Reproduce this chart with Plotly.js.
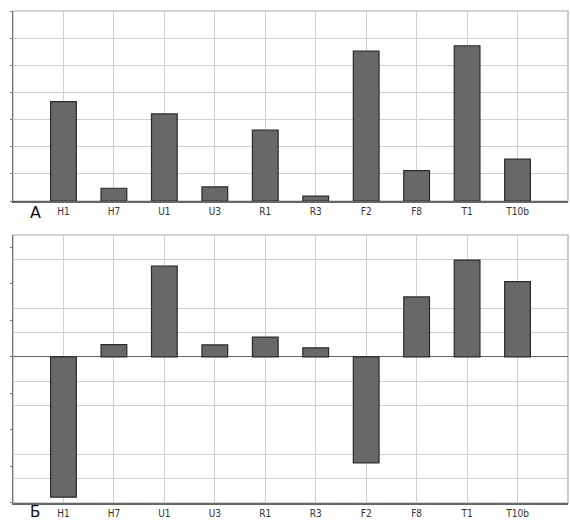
<!DOCTYPE html>
<html>
<head>
<meta charset="utf-8">
<script src="https://cdn.plot.ly/plotly-3.0.1.min.js"></script>
<style>html,body{margin:0;padding:0;background:#fff;}#chart{width:570px;height:521px;}</style>
</head>
<body>
<div id="chart"></div>
<script>
const categories = ['H1','H7','U1','U3','R1','R3','F2','F8','T1','T10b'];
const valuesA = [3.66,0.47,3.21,0.52,2.61,0.18,5.52,1.12,5.72,1.54];
const valuesB = [-5.76,0.50,3.72,0.49,0.81,0.37,-4.35,2.46,3.97,3.09];
const panelLabels = ['А','Б'];

const barStyle = {color:'#686868', line:{color:'#2a2a2a', width:1.2}};
const traces = [
  {type:'bar', x:categories, y:valuesA, xaxis:'x', yaxis:'y', marker:barStyle, width:0.51, hoverinfo:'skip'},
  {type:'bar', x:categories, y:valuesB, xaxis:'x2', yaxis:'y2', marker:barStyle, width:0.51, hoverinfo:'skip'}
];

const tickFont = {family:'"DejaVu Sans Condensed","Liberation Sans Narrow","Arial Narrow","DejaVu Sans",sans-serif', size:10, color:'#333'};
const xCommon = {
  type:'category', range:[-1,10], showgrid:true, gridcolor:'#cfcfcf', gridwidth:1,
  showline:true, linecolor:'#666', linewidth:1.5, ticks:'', tickfont:tickFont, zeroline:false,
  fixedrange:true
};
const yCommon = {
  showline:true, linecolor:'#777', linewidth:1.2, ticks:'outside', ticklen:2, tickcolor:'#777',
  showticklabels:false, showgrid:true, gridcolor:'#cfcfcf', gridwidth:1, fixedrange:true
};

const layout = {
  width:570, height:521,
  margin:{l:13, r:2, t:11, b:18},
  paper_bgcolor:'#fff', plot_bgcolor:'#fff',
  showlegend:false, bargap:0,
  xaxis: Object.assign({}, xCommon, {anchor:'y'}),
  yaxis: Object.assign({}, yCommon, {domain:[0.6138,1], range:[0,7], dtick:1, tick0:0, zeroline:false}),
  xaxis2: Object.assign({}, xCommon, {anchor:'y2'}),
  yaxis2: Object.assign({}, yCommon, {domain:[0,0.5447], range:[-6,5], dtick:1.5, tick0:0, showgrid:false,
    zeroline:true, zerolinecolor:'#666', zerolinewidth:1.3,
    minor:{dtick:1, tick0:0, showgrid:true, gridcolor:'#cfcfcf', gridwidth:1, ticks:''}}),
  shapes:[
    {type:'rect', xref:'x domain', yref:'y domain', x0:0, x1:1, y0:0, y1:1, line:{color:'#aaa', width:1.2}, layer:'below'},
    {type:'rect', xref:'x2 domain', yref:'y2 domain', x0:0, x1:1, y0:0, y1:1, line:{color:'#aaa', width:1.2}, layer:'below'}
  ],
  annotations:[
    {text:panelLabels[0], xref:'paper', yref:'paper', x:0.04, y:0.6138, yshift:-11, showarrow:false, xanchor:'center', yanchor:'middle',
     font:{family:'"DejaVu Sans",sans-serif', size:16, color:'#111'}},
    {text:panelLabels[1], xref:'paper', yref:'paper', x:0.04, y:0, yshift:-9, showarrow:false, xanchor:'center', yanchor:'middle',
     font:{family:'"DejaVu Sans",sans-serif', size:15, color:'#111'}}
  ]
};

Plotly.newPlot('chart', traces, layout, {displayModeBar:false, staticPlot:true});
</script>
</body>
</html>
